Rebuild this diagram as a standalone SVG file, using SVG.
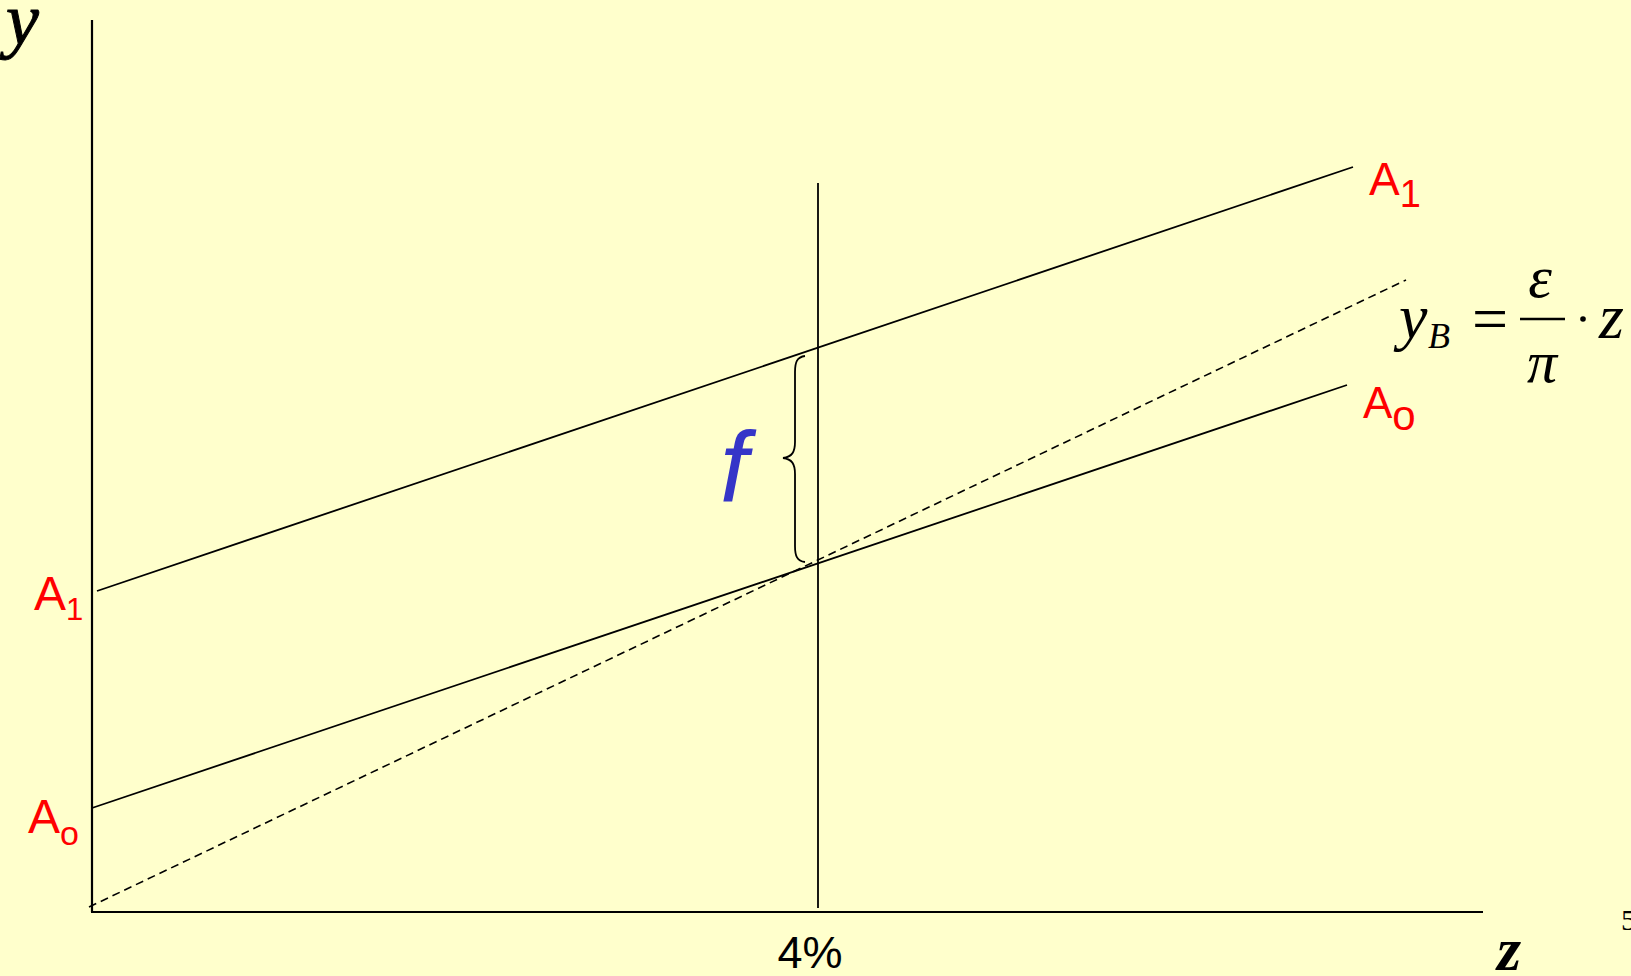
<svg xmlns="http://www.w3.org/2000/svg" width="1631" height="976" viewBox="0 0 1631 976">
<style>
.ax{stroke:#000;stroke-width:2.2;fill:none}
.ln{stroke:#000;stroke-width:1.8;fill:none}
.ds{stroke:#000;stroke-width:1.6;fill:none;stroke-dasharray:8 5}
.red{fill:#FF0000;font-family:"Liberation Sans",Arial,sans-serif}
.math{fill:#000;font-family:"Liberation Serif","Times New Roman",serif;font-style:italic}
</style>
<rect width="1631" height="976" fill="#FFFFCC"/>
<g id="connectors">
<line class="ax" x1="92" y1="20" x2="92" y2="912"/>
<line class="ax" x1="91" y1="912" x2="1483" y2="912"/>
<line class="ln" x1="818" y1="183" x2="818" y2="908"/>
<line class="ln" x1="97" y1="591" x2="1353" y2="167"/>
<line class="ln" x1="92" y1="808" x2="1347" y2="385"/>
<line class="ds" x1="89" y1="907" x2="1406" y2="280"/>
<path class="ln" d="M805,356 C797,357 795,362 795,372 L795,442 C795,452 792,457 783,458 C792,459 795,464 795,474 L795,546 C795,556 797,561 805,562" stroke-width="1.6"/>
</g>
<g id="axis-y"><text class="math" x="6" y="44" font-size="74" stroke="#000" stroke-width="1">y</text></g>
<g id="axis-z"><text class="math" x="1497" y="970" font-size="62" font-weight="bold">z</text></g>
<g id="pct"><text x="810" y="968" font-size="45" text-anchor="middle" font-family="Liberation Sans,Arial,sans-serif" fill="#000">4%</text></g>
<g id="page"><text x="1621" y="930" font-size="30" font-family="Liberation Serif,serif" fill="#000">5</text></g>
<g id="A1-right"><text class="red" x="1369" y="195" font-size="46">A<tspan font-size="38" dy="12">1</tspan></text></g>
<g id="A0-right"><text class="red" x="1363" y="418" font-size="44">A<tspan font-size="42" dy="12">o</tspan></text></g>
<g id="A1-left"><text class="red" x="34" y="610" font-size="48">A<tspan font-size="31" dy="10">1</tspan></text></g>
<g id="A0-left"><text class="red" x="28" y="833" font-size="48">A<tspan font-size="34" dy="12">o</tspan></text></g>
<g id="f-label"><text x="720" y="502" font-size="100" font-style="italic" font-family="Liberation Sans,Arial,sans-serif" fill="#3535C8">f</text></g>
<g id="formula">
<text class="math" x="1399" y="338" font-size="64">y</text>
<text class="math" x="1428" y="348" font-size="36">B</text>
<text x="1490" y="340" font-size="64" text-anchor="middle" font-family="Liberation Serif,serif" fill="#000">=</text>
<line x1="1520" y1="319" x2="1565" y2="319" stroke="#000" stroke-width="2.4"/>
<text class="math" x="1540" y="297" font-size="60" text-anchor="middle">ε</text>
<text class="math" x="1542" y="382" font-size="60" text-anchor="middle">π</text>
<circle cx="1583" cy="319" r="2.8" fill="#000"/>
<text class="math" x="1599" y="338" font-size="64">z</text>
</g>
</svg>
